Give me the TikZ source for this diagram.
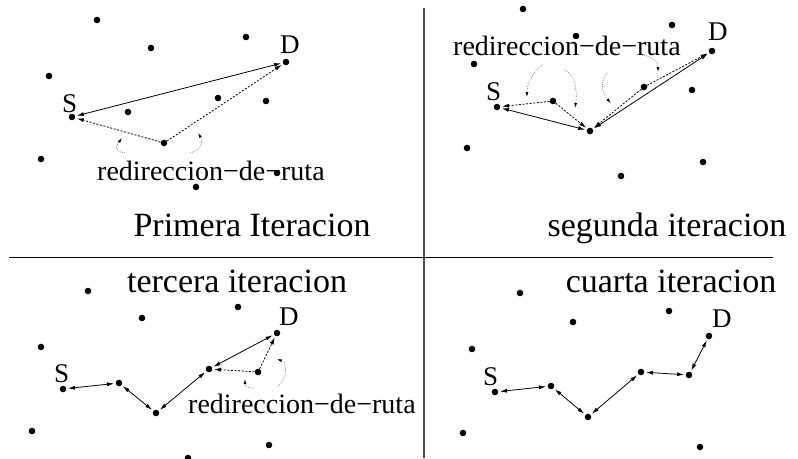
\documentclass[tikz,border=0pt]{standalone}
\usepackage{fontspec}
\setmainfont{Liberation Serif}
\usetikzlibrary{arrows.meta}
\begin{document}
\begin{tikzpicture}[x=1pt, y=-1pt, >={Latex[length=7pt,width=4pt]},
    dot/.style={circle, fill, inner sep=0pt, minimum size=6.6pt},
    route/.style={<->, line width=0.8pt, shorten <=1.5pt, shorten >=1.5pt},
    probe/.style={->, line width=0.8pt, dash pattern=on 2pt off 1.6pt, shorten >=1.5pt},
    redir/.style={-{Latex[length=5pt,width=3pt,color=black]}, gray, line width=0.7pt, dash pattern=on 0.8pt off 1.2pt},
    lbl/.style={font=\fontsize{27}{32}\selectfont, anchor=base west, inner sep=0pt},
    ttl/.style={font=\fontsize{34}{40}\selectfont, anchor=base, inner sep=0pt},
    note/.style={font=\fontsize{28}{32}\selectfont, anchor=base west, inner sep=0pt}]
  \useasboundingbox (0,0) rectangle (798,458);
  % separators
  \draw[gray!60!black, line width=1.3pt] (424,8) -- (424,458);
  \draw[line width=1pt] (9,257) -- (773,257);
  % nodes of the four iterations
  \foreach \n/\x/\y in {p1/97/20, p2/151/48, p3/246/37, pD/286/62, p4/49/76, pS/72/117,
      p5/128/112, p6/218/98, p7/266/101, pm/164/143, p8/41/159, p9/277/173, p10/196/187,
      s1/523/9, s2/672/25, s3/576/36, sD/712/51, s4/474/64, sb/644/87, s5/692/90,
      sS/497/107, sa/553/101, sm/590/131, s6/467/148, s7/703/162, s8/621/176,
      t1/88/291, t2/238/307, t3/142/318, tD/277/333, t4/41/347, tS/63/389, ta/119/383,
      tc/209/369, tr/258/372, tb/156/413, t5/32/431, t6/269/445, t7/188/458,
      c1/520/293, c2/669/311, c3/573/322, cD/709/336, c4/472/349, cS/495/392,
      ca/551/386, cb/588/417, cc/641/372, cd/689/375, c5/463/433, c6/700/447}
    \node[dot] (\n) at (\x,\y) {};
  % S and D labels
  \foreach \n/\t/\x/\y in {pSl/S/62/112, pDl/D/280/53, sSl/S/486/100, sDl/D/708/40,
      tSl/S/54/382, tDl/D/279/325, cSl/S/483/385, cDl/D/712/327}
    \node[lbl] (\n) at (\x,\y) {\t};
  % titles
  \node[ttl] (ttl1) at (252,236) {Primera Iteracion};
  \node[ttl] (ttl2) at (667,236) {segunda iteracion};
  \node[ttl] (ttl3) at (237,292) {tercera iteracion};
  \node[ttl] (ttl4) at (671,292) {cuarta iteracion};
  \node[note] (note1) at (97,180) {redireccion−de−ruta};
  \node[note] (note2) at (453,55) {redireccion−de−ruta};
  \node[note] (note3) at (188,413) {redireccion−de−ruta};
  % routes
  \draw[route] (pS) -- (pD);
  \draw[probe] (pm) -- (pS);
  \draw[probe] (pm) -- (pD);
  \draw[route] (sS) -- (sm);
  \draw[route] (sm) -- (sD);
  \draw[probe] (sa) -- (sS);
  \draw[probe] (sa) -- (sm);
  \draw[probe] (sb) -- (sD);
  \draw[probe] (sb) -- (sm);
  \draw[route] (tS) -- (ta);
  \draw[route] (ta) -- (tb);
  \draw[route] (tb) -- (tc);
  \draw[route] (tc) -- (tD);
  \draw[probe] (tr) -- (tc);
  \draw[probe] (tr) -- (tD);
  \draw[route] (cS) -- (ca);
  \draw[route] (ca) -- (cb);
  \draw[route] (cb) -- (cc);
  \draw[route] (cc) -- (cd);
  \draw[route] (cd) -- (cD);
  % redirection hints
  \foreach \n/\ax/\ay/\cx/\cy/\dx/\dy/\bx/\by in {r1/125/153/-12/-2/-6/8/122/138,
      r2/190/153/12/-3/5/8/198/133, r3/542/65/-12/10/0/-12/527/97,
      r4/565/70/12/6/2/-14/575/108, r5/607/73/-8/10/-8/-8/611/103,
      r6/642/55/12/2/0/-10/658/72, r7/253/388/-8/0/0/6/245/379,
      r8/278/386/10/-8/10/4/277/359} {
    \coordinate (\n a) at (\ax,\ay);
    \coordinate (\n b) at (\bx,\by);
    \draw[redir] (\n a) .. controls +(\cx,\cy) and +(\dx,\dy) .. (\n b);
  }
\end{tikzpicture}
\end{document}
